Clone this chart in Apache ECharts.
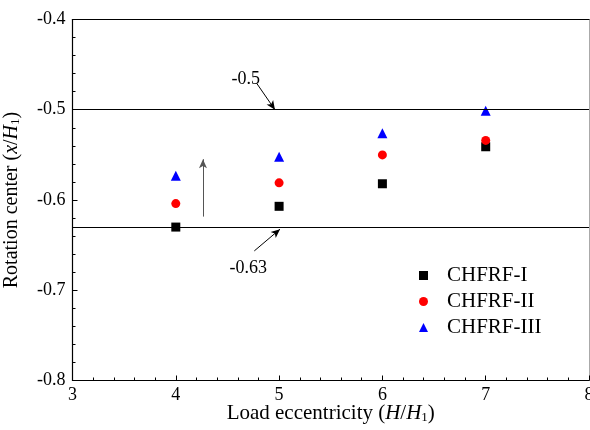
<!DOCTYPE html>
<html><head><meta charset="utf-8">
<script src="https://cdn.jsdelivr.net/npm/echarts@6/dist/echarts.min.js"></script>
<style>html,body{margin:0;padding:0;background:#fff}#c{width:590px;height:430px}</style>
</head><body><div id="c"></div>
<script>
const eccentricity = [4, 5, 6, 7];
const chfrf1 = [-0.630, -0.607, -0.582, -0.541];
const chfrf2 = [-0.604, -0.581, -0.550, -0.534];
const chfrf3 = [-0.573, -0.552, -0.526, -0.501];
const seriesNames = ['CHFRF-I', 'CHFRF-II', 'CHFRF-III'];
const refLines = [-0.5, -0.63];

const F = 'Liberation Serif, Times New Roman, serif';
const pts = a => eccentricity.map((x, i) => [x, a[i]]);
const richX = {
  n: {fontFamily: F, fontSize: 21, color: '#000'},
  i: {fontFamily: F, fontSize: 21, fontStyle: 'italic', color: '#000'},
  s: {fontFamily: F, fontSize: 13, color: '#000', verticalAlign: 'bottom', padding: [9, 0, 0, 0]}
};
const richY = {
  n: {fontFamily: F, fontSize: 20, color: '#000'},
  i: {fontFamily: F, fontSize: 20, fontStyle: 'italic', color: '#000'},
  s: {fontFamily: F, fontSize: 13, color: '#000', verticalAlign: 'bottom', padding: [9, 0, 0, 0]}
};
const chart = echarts.init(document.getElementById('c'));
chart.setOption({
  animation: false,
  grid: {left: 72.5, top: 19.5, right: 1, bottom: 49.5, outerBoundsMode: 'none', containLabel: false},
  legend: {
    orient: 'vertical', left: 414, top: 260, itemGap: 5,
    itemWidth: 9, itemHeight: 9,
    textStyle: {fontFamily: F, fontSize: 21, color: '#000', padding: [0, 0, 0, 14]},
    data: seriesNames
  },
  xAxis: [{
    type: 'value', min: 3, max: 8, interval: 1,
    name: '{n|Load eccentricity (}{i|H}{n|/}{i|H}{s|1}{n|)}',
    nameLocation: 'middle', nameGap: 22, nameMoveOverlap: false, nameTextStyle: {rich: richX},
    axisLine: {lineStyle: {color: '#000', width: 1.2}},
    axisTick: {inside: true, length: 5, lineStyle: {color: '#000'}},
    minorTick: {show: true, splitNumber: 5, length: 3, lineStyle: {color: '#000'}},
    axisLabel: {fontFamily: F, fontSize: 18, color: '#000', margin: 6},
    splitLine: {show: false}
  }, {
    type: 'value', min: 3, max: 8, interval: 1, position: 'top',
    axisLine: {show: true, lineStyle: {color: '#000', width: 1.2}},
    axisTick: {show: false}, axisLabel: {show: false}, splitLine: {show: false}
  }],
  yAxis: [{
    type: 'value', min: -0.8, max: -0.4, interval: 0.1,
    name: '{n|Rotation center (}{i|x}{n|/}{i|H}{s|1}{n|)}',
    nameLocation: 'middle', nameGap: 50, nameRotate: 90, nameMoveOverlap: false, nameTextStyle: {rich: richY},
    axisLine: {show: true, lineStyle: {color: '#000', width: 1.2}},
    axisTick: {inside: true, length: 5, lineStyle: {color: '#000'}},
    minorTick: {show: true, splitNumber: 5, length: 3, lineStyle: {color: '#000'}},
    axisLabel: {fontFamily: F, fontSize: 18, color: '#000', margin: 7,
      formatter: v => v.toFixed(1)},
    splitLine: {show: false}
  }, {
    type: 'value', min: -0.8, max: -0.4, interval: 0.1, position: 'right',
    axisLine: {show: true, lineStyle: {color: '#aaa', width: 1}},
    axisTick: {show: false}, axisLabel: {show: false}, splitLine: {show: false}
  }],
  series: [
    {name: seriesNames[0], type: 'scatter', symbol: 'rect', symbolSize: 9,
     itemStyle: {color: '#000', opacity: 1}, data: pts(chfrf1),
     markLine: {
       silent: true, symbol: ['none', 'none'], label: {show: false},
       lineStyle: {color: '#000', width: 1.2, type: 'solid'},
       data: refLines.map(v => ({yAxis: v}))
     }},
    {name: seriesNames[1], type: 'scatter', symbol: 'circle', symbolSize: 9,
     itemStyle: {color: '#ff0000', opacity: 1}, data: pts(chfrf2),
     markLine: {
       silent: true, symbol: ['none', 'arrow'], symbolSize: [6, 9], label: {show: false},
       lineStyle: {color: '#000', width: 1, type: 'solid'},
       data: [
         [{coord: [4.783, -0.4707]}, {coord: [4.96, -0.5]}],
         [{coord: [4.76, -0.6564]}, {coord: [5.009, -0.6323]}],
         [{coord: [4.263, -0.6184], lineStyle: {color: '#555'}}, {coord: [4.263, -0.5548], lineStyle: {color: '#555'}}]
       ]
     }},
    {name: seriesNames[2], type: 'scatter', symbol: 'triangle', symbolSize: 10,
     itemStyle: {color: '#0000ff', opacity: 1}, data: pts(chfrf3),
     markPoint: {
       symbol: 'circle', symbolSize: 0, silent: true,
       label: {show: true, position: 'inside', fontFamily: F, fontSize: 18, color: '#000',
         formatter: p => p.name},
       data: [
         {name: '-0.5', coord: [4.677, -0.466]},
         {name: '-0.63', coord: [4.702, -0.676]}
       ]
     }}
  ]
});
</script></body></html>
